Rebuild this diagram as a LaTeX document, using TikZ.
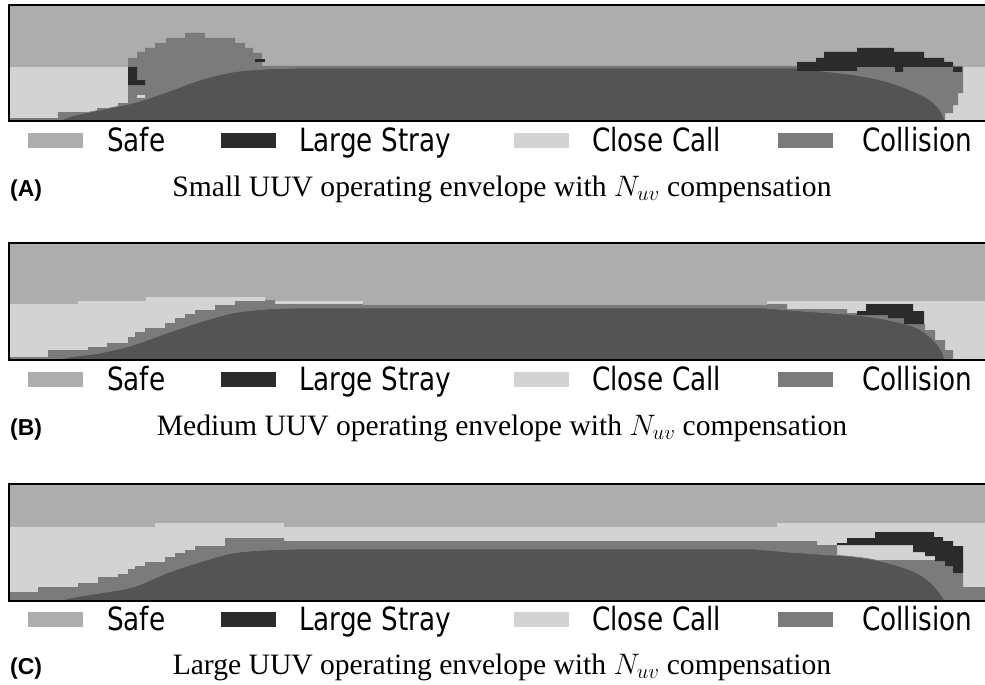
\RequirePackage{fix-cm}
\documentclass[tikz,border=0pt]{standalone}
\usepackage{fontspec}
\setmainfont{Liberation Serif}
\newfontfamily\legendfont[FakeStretch=0.82]{DejaVu Sans}
\newfontfamily\tagfont{Liberation Sans}

\definecolor{safe}{HTML}{ADADAD}
\definecolor{stray}{HTML}{2B2B2B}
\definecolor{closecall}{HTML}{D3D3D3}
\definecolor{coll}{HTML}{7B7B7B}
\definecolor{hull}{HTML}{545454}

\tikzset{
  panelframe/.style={draw=black, line width=2pt},
  hullshape/.style={fill=hull, draw=coll, line width=0.8pt},
  legtext/.style={anchor=base west, inner sep=0pt, font=\legendfont\fontsize{32}{32}\selectfont},
  tagtext/.style={anchor=base west, inner sep=0pt, font=\tagfont\bfseries\fontsize{23}{23}\selectfont},
  captext/.style={anchor=base, inner sep=0pt, font=\fontsize{29.6}{30}\selectfont}
}

% one legend row, centred on height #1, node names suffixed by #2
\newcommand\legendrow[2]{%
  \fill[safe]      (28,#1-7.5)  rectangle (83,#1+7.5);
  \node[legtext] (safe#2)  at (107,#1+11.5) {Safe};
  \fill[stray]     (221,#1-7.5) rectangle (276,#1+7.5);
  \node[legtext] (stray#2) at (299,#1+11.5) {Large Stray};
  \fill[closecall] (514,#1-7.5) rectangle (569,#1+7.5);
  \node[legtext] (close#2) at (592,#1+11.5) {Close Call};
  \fill[coll]      (778,#1-7.5) rectangle (833,#1+7.5);
  \node[legtext] (coll#2)  at (862,#1+11.5) {Collision};
}

\begin{document}
\begin{tikzpicture}[x=1pt, y=-1pt]
\useasboundingbox (0,0) rectangle (985,685);
\fill[white] (0,0) rectangle (985,685);
\begin{scope}
\clip (0,0) rectangle (985,685);

% ---------------- panel A: small vehicle ----------------
\fill[safe] (9,5) rectangle (990,121);
\fill[closecall] (9,67) rectangle (128,121);
\fill[closecall] (945,67) rectangle (990,121);
\fill[coll] (9,118) -- (58,118) -- (58,112) -- (97,112) -- (97,108) -- (118,108)
  -- (118,103) -- (137,103) -- (137,99) -- (150,99) -- (150,121) -- (9,121) -- cycle;
\fill[coll] (128,104) -- (128,58) -- (137,58) -- (137,52) -- (145,52) -- (145,48)
  -- (155,48) -- (155,43) -- (166,43) -- (166,38) -- (185,38) -- (185,33)
  -- (205,33) -- (205,38) -- (235,38) -- (235,43) -- (245,43) -- (245,48)
  -- (253,48) -- (253,53) -- (262,53) -- (262,66) -- (963,66) -- (963,93)
  -- (958,93) -- (958,105) -- (953,105) -- (953,113) -- (945,113) -- (945,121)
  -- (128,121) -- cycle;
\fill[closecall] (137,95) rectangle (145,98);
\path[hullshape] plot[smooth, tension=0.55] coordinates {(60,121) (72,116) (100,110)
  (133,103) (167,92) (200,80) (233,72) (267,69) (300,68)} -- (795,68)
  -- plot[smooth, tension=0.55] coordinates {(795,68) (855,75) (888,82) (915,92)
  (930,100) (940,110) (945,121)} -- cycle;
\fill[stray] (128,67) -- (137,67) -- (137,80) -- (145,80) -- (145,85) -- (128,85) -- cycle;
\fill[stray] (255,59) rectangle (265,62);
\fill[stray] (797,71) -- (797,62) -- (816,62) -- (816,58) -- (824,58) -- (824,52)
  -- (857,52) -- (857,48) -- (894,48) -- (894,52) -- (924,52) -- (924,58)
  -- (944,58) -- (944,62) -- (953,62) -- (953,67) -- (962,67) -- (962,72)
  -- (953,72) -- (953,67) -- (903,67) -- (903,72) -- (895,72) -- (895,67)
  -- (857,67) -- (857,71) -- cycle;
\draw[panelframe] (9,5) rectangle (990,121);

% ---------------- panel B: medium vehicle ----------------
\fill[safe] (9,243) rectangle (990,360);
\fill[closecall] (9,304) -- (78,304) -- (78,301) -- (146,301) -- (146,297)
  -- (265,297) -- (265,360) -- (9,360) -- cycle;
\fill[closecall] (265,301) rectangle (363,304);
\fill[closecall] (767,301) rectangle (990,360);
\fill[coll] (9,357) -- (48,357) -- (48,350) -- (88,350) -- (88,347) -- (107,347)
  -- (107,343) -- (128,343) -- (128,337) -- (135,337) -- (135,332) -- (145,332)
  -- (145,328) -- (165,328) -- (165,323) -- (175,323) -- (175,318) -- (185,318)
  -- (185,314) -- (195,314) -- (195,310) -- (215,310) -- (215,305) -- (235,305)
  -- (235,301) -- (265,301) -- (265,300) -- (275,300) -- (275,304) -- (363,304)
  -- (363,305) -- (767,305) -- (767,304) -- (787,304) -- (787,309) -- (847,309)
  -- (847,313) -- (905,313) -- (905,324) -- (925,324) -- (925,330) -- (935,330)
  -- (935,340) -- (945,340) -- (945,350) -- (953,350) -- (953,360) -- (9,360) -- cycle;
\path[hullshape] plot[smooth, tension=0.55] coordinates {(60,360) (70,357) (100,353)
  (133,345) (167,333) (200,322) (233,313) (267,309) (300,308)} -- (765,308)
  -- plot[smooth, tension=0.55] coordinates {(765,308) (788,310) (855,315) (888,320)
  (915,327) (930,337) (940,348) (945,360)} -- cycle;
\fill[stray] (857,311) -- (866,311) -- (866,304) -- (913,304) -- (913,311) -- (924,311)
  -- (924,324) -- (904,324) -- (904,318) -- (888,318) -- (888,315) -- (857,315) -- cycle;
\draw[panelframe] (9,243) rectangle (990,360);

% ---------------- panel C: large vehicle ----------------
\fill[safe] (9,484) rectangle (990,601);
\fill[closecall] (9,527) -- (155,527) -- (155,523) -- (284,523) -- (284,527)
  -- (777,527) -- (777,523) -- (990,523) -- (990,601) -- (9,601) -- cycle;
\fill[coll] (9,592) -- (38,592) -- (38,587) -- (78,587) -- (78,583) -- (98,583)
  -- (98,577) -- (118,577) -- (118,574) -- (128,574) -- (128,569) -- (135,569)
  -- (135,566) -- (145,566) -- (145,562) -- (165,562) -- (165,557) -- (175,557)
  -- (175,553) -- (185,553) -- (185,550) -- (195,550) -- (195,546) -- (225,546)
  -- (225,538) -- (284,538) -- (284,541) -- (817,541) -- (817,545) -- (837,545)
  -- (837,560) -- (963,560) -- (963,587) -- (990,587) -- (990,601) -- (9,601) -- cycle;
\path[hullshape] plot[smooth, tension=0.55] coordinates {(60,601) (70,598) (100,593)
  (133,587) (167,573) (200,562) (233,553) (267,550) (300,549)} -- (755,549)
  -- plot[smooth, tension=0.55] coordinates {(755,549) (788,552) (855,557) (888,563)
  (915,572) (930,582) (940,593) (945,601)} -- cycle;
\fill[stray] (837,545) -- (837,543) -- (847,543) -- (847,538) -- (875,538) -- (875,532)
  -- (934,532) -- (934,537) -- (943,537) -- (943,541) -- (953,541) -- (953,546)
  -- (963,546) -- (963,573) -- (953,573) -- (953,566) -- (945,566) -- (945,561)
  -- (935,561) -- (935,556) -- (925,556) -- (925,552) -- (913,552) -- (913,545) -- cycle;
\draw[panelframe] (9,484) rectangle (990,601);
\end{scope}

% ---------------- legends and captions ----------------
\legendrow{140}{A}
\legendrow{379}{B}
\legendrow{619}{C}

\node[tagtext] (tagA) at (10,196) {(A)};
\node[captext] (capA) at (502,196) {Small UUV operating envelope with $N_{uv}$ compensation};
\node[tagtext] (tagB) at (10,435) {(B)};
\node[captext] (capB) at (502,435) {Medium UUV operating envelope with $N_{uv}$ compensation};
\node[tagtext] (tagC) at (10,674) {(C)};
\node[captext] (capC) at (502,674) {Large UUV operating envelope with $N_{uv}$ compensation};
\end{tikzpicture}
\end{document}
